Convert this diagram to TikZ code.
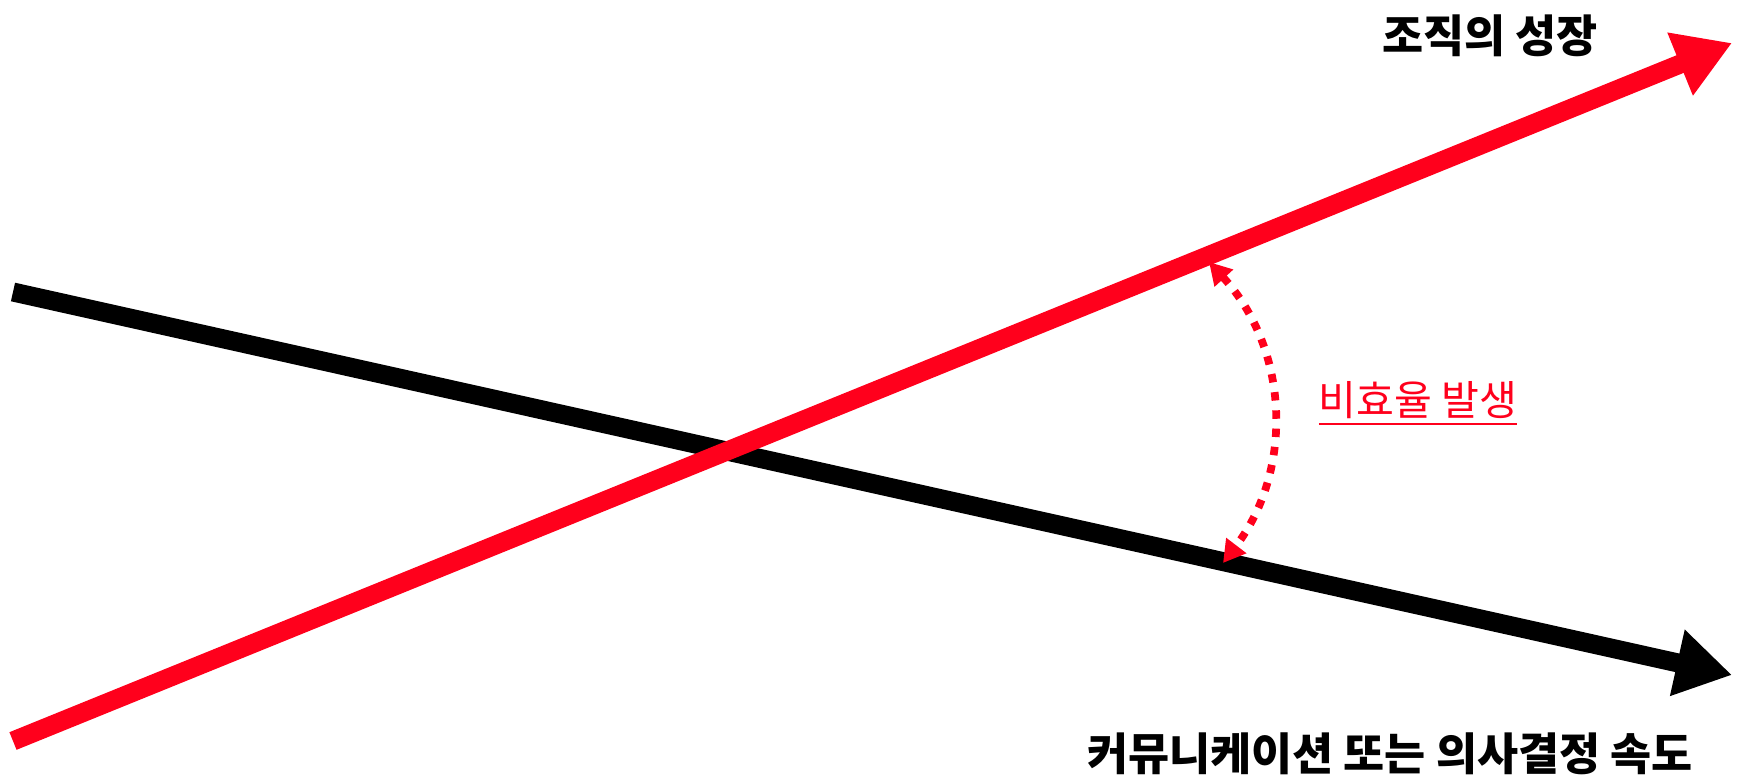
\documentclass[tikz,border=0pt]{standalone}
\usepackage{fontspec}
\setmainfont{Noto Sans CJK KR}
\usetikzlibrary{
    arrows.meta,
    positioning,
    calc
}
\definecolor{growthred}{RGB}{255,0,28}
\tikzstyle{trend} = [
    line width=5.4pt,
    -{Triangle[length=0.56cm,width=0.64cm]}
]
\tikzstyle{gaparrow} = [
    growthred,
    line width=2.2pt,
    dash pattern=on 2.4pt off 2.8pt,
    {Triangle[length=0.22cm,width=0.24cm]}-{Triangle[length=0.22cm,width=0.24cm]}
]
\tikzstyle{trendlabel} = [
    inner sep=0pt,
    font=\fontsize{12.7}{15}\selectfont\bfseries
]
\tikzstyle{gaplabel} = [
    inner sep=0pt,
    text=growthred,
    font=\fontsize{11.7}{14}\selectfont
]

\begin{document}
\begin{tikzpicture}[x=0.01cm, y=-0.01cm]
    \useasboundingbox (0,0) rectangle (1739,779);

    % Trend lines
    \coordinate (speedstart) at (13,292);
    \coordinate (speedend) at (1732,675);
    \coordinate (growthstart) at (13,741);
    \coordinate (growthend) at (1732,43);

    \draw[trend, black] (speedstart) -- (speedend);
    \draw[trend, growthred] (growthstart) -- (growthend);

    % Labels
    \node[trendlabel] (growth) at (1490,36) {조직의 성장};
    \node[trendlabel] (speed) at (1390,754) {커뮤니케이션 또는 의사결정 속도};

    % Gap
    \coordinate (gaptop) at (1209,262);
    \coordinate (gapbot) at (1223,563);
    \draw[gaparrow] (gaptop) to[bend left=40] (gapbot);
    \node[gaplabel] (gap) at (1418,404) {\underline{비효율 발생}};
\end{tikzpicture}
\end{document}
